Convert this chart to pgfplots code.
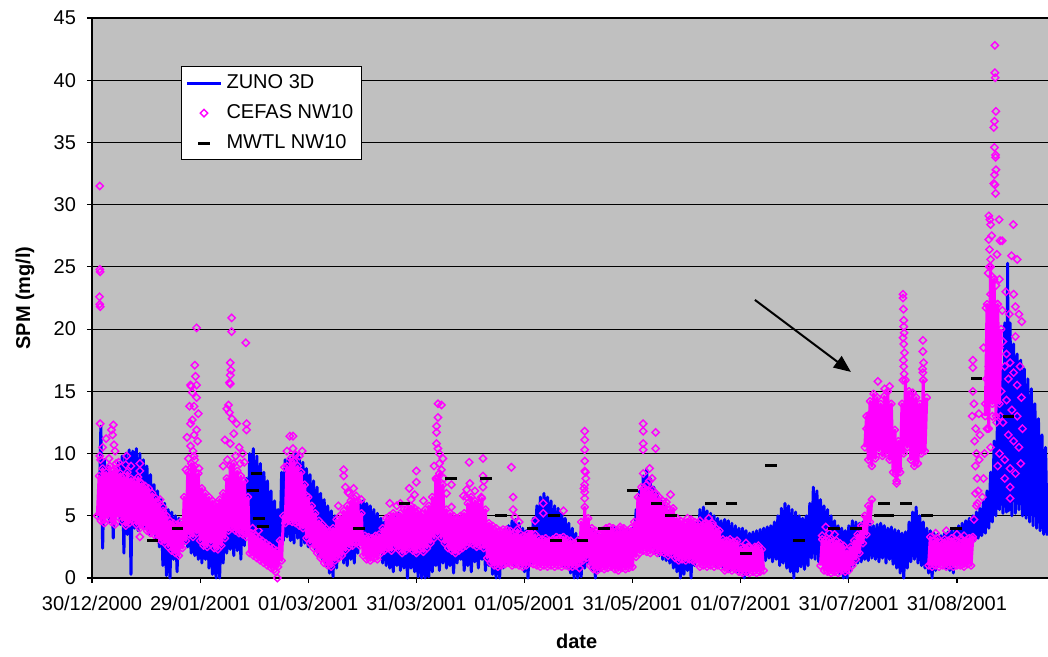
\documentclass[border=0pt]{standalone}
\usepackage{pgfplots}
\pgfplotsset{compat=1.18}
\usepackage{fontspec}
\setmainfont{Liberation Sans}
\usetikzlibrary{arrows.meta}
\definecolor{plotgray}{RGB}{192,192,192}
\definecolor{zuno}{RGB}{0,0,255}
\definecolor{cefas}{RGB}{255,0,255}
\begin{document}
\begin{tikzpicture}
\useasboundingbox (-46pt,-39.5pt) rectangle (478pt,289pt);
\begin{axis}[
  at={(0,0)}, anchor=south west,
  scale only axis, width=478pt, height=280pt,
  xmin=0, xmax=269.7, ymin=0, ymax=45,
  axis background/.style={fill=plotgray},
  axis x line*=bottom, axis y line*=left,
  axis line style={black, line width=0.6pt},
  ytick={0,5,...,45},
  ymajorgrids, grid style={black, line width=0.55pt},
  xtick={0,30.5,61,91.5,122,152.5,183,213.5,244},
  xticklabels={30/12/2000,29/01/2001,01/03/2001,31/03/2001,01/05/2001,31/05/2001,01/07/2001,31/07/2001,31/08/2001},
  tick align=outside, major tick length=2.5pt,
  tick style={black, line width=0.6pt},
  ticklabel style={font=\fontsize{10}{12}\selectfont},
  xticklabel style={yshift=-3pt},
  yticklabel style={xshift=-2pt},
  /pgf/number format/assume math mode=true,
  xlabel={\textbf{date}}, ylabel={\textbf{SPM (mg/l)}},
  label style={font=\fontsize{10}{12}\selectfont},
  xlabel style={at={(axis description cs:0.507,-0.114)}, anchor=center},
  ylabel style={at={(axis description cs:-0.070,0.5)}, anchor=center},
  unbounded coords=jump,
  clip=false,
  legend style={at={(axis description cs:0.093,0.914)}, anchor=north west,
    draw=black, fill=white, line width=0.5pt,
    font=\fontsize{10}{12}\selectfont, inner xsep=2pt, inner ysep=2pt, row sep=2.5pt},
  legend cell align=left,
]
% ZUNO 3D model (tidal band)
\addplot[zuno, line width=1.5pt, line join=round, legend image post style={line width=1.5pt}] coordinates {
(2,4.8)(2.5,12.2)(3,2.4)(3.5,9.5)(4,5)(4.5,9)(5,4.5)(5.5,8.5)(6,3.2)(6.5,8.7)(7,5)(7.5,9.3)(8,4.3)(8.5,9.8)(9,2)(9.5,10)(10,3.5)(10.5,10.3)(11,0.3)(11.5,10.2)(12,4)(12.5,10.4)(13,3.8)(13.5,10)(14,4.2)(14.5,9.5)(15,4)(15.5,9)(16,3.5)(16.5,8.3)(17,3.8)(17.5,7.5)(18,3.2)(18.5,7)(19,2.5)(19.5,6.3)(20,1)(20.5,6)(21,0.2)(21.5,5.5)(22,0)(22.5,5.3)(23,1.5)(23.5,5)(24,0.5)(24.5,4.8)(25,2.5)(25.5,4.5)(26,2.8)(26.5,4.4)(27,2.5)(27.5,4.3)(28,2)(28.5,4.2)(29,1.8)(29.5,4.6)(30,1.5)(30.5,5)(31,1.2)(31.5,5.4)(32,1.5)(32.5,5.6)(33,0.8)(33.5,5.5)(34,0.3)(34.5,5.3)(35,0)(35.5,5)(36,0)(36.5,4.8)(37,1.2)(37.5,5.2)(38,2)(38.5,5.8)(39,2.3)(39.5,6.3)(40,1.8)(40.5,6.5)(41,2.2)(41.5,7)(42,1.5)(42.5,6.8)(43,2.6)(43.5,8)(44,3.4)(44.5,10)(45,3.6)(45.5,10.4)(46,2.8)(46.5,9.8)(47,2)(47.5,9.2)(48,2.8)(48.5,8.5)(49,1.8)(49.5,7.8)(50,1.2)(50.5,7)(51,1)(51.5,6.2)(52,1)(52.5,5.5)(53,2)(53.5,8.5)(54,3)(54.5,9.5)(55,3.3)(55.5,9.6)(56,3)(56.5,9.8)(57,2.8)(57.5,10)(58,3.2)(58.5,9.7)(59,2.6)(59.5,9.3)(60,2.8)(60.5,8.8)(61,2.5)(61.5,8.3)(62,2.6)(62.5,7.8)(63,2.2)(63.5,7.3)(64,1.8)(64.5,6.8)(65,1.5)(65.5,6.3)(66,1)(66.5,5.8)(67,0.4)(67.5,5.4)(68,0.1)(68.5,5)(69,0.8)(69.5,4.5)
(70,1.5)(70.5,4.8)(71,1.2)(71.5,5)(72,1)(72.5,5.3)(73,1.5)(73.5,5.5)(74,1.2)(74.5,5.8)(75,2)(75.5,6)(76,2.8)(76.5,6.2)(77,2.5)(77.5,6)(78,2.8)(78.5,5.8)(79,2.2)(79.5,5.5)(80,1.8)(80.5,5.2)(81,2)(81.5,4.8)(82,1.2)(82.5,4.5)(83,1)(83.5,4.6)(84,0.8)(84.5,4.8)(85,0.5)(85.5,5)(86,1)(86.5,5.2)(87,0.6)(87.5,5)(88,0.8)(88.5,4.6)(89,0)(89.5,4.3)(90,0.8)(90.5,4.5)(91,0.5)(91.5,4.2)(92,0.1)(92.5,4)(93,0)(93.5,3.8)(94,0)(94.5,3.6)(95,0.1)(95.5,3.8)(96,0.5)(96.5,4)(97,1)(97.5,4.3)(98,0.6)(98.5,4.5)(99,1.2)(99.5,4.4)(100,0.8)(100.5,4.2)(101,1)(101.5,4)(102,0.4)(102.5,3.8)(103,1.2)(103.5,3.6)(104,1.5)(104.5,3.8)(105,0.6)(105.5,4)(106,1)(106.5,3.8)(107,0.5)(107.5,3.6)(108,1.3)(108.5,3.5)(109,0.8)(109.5,3.8)(110,1.5)(110.5,4)(111,0.6)(111.5,3.7)(112,1)(112.5,3.5)(113,0.3)(113.5,3.3)(114,0)(114.5,3.2)(115,0)(115.5,3.4)(116,0.8)(116.5,3.8)(117,1.2)(117.5,4.2)(118,1.5)(118.5,4.6)(119,1)(119.5,4.7)(120,1.3)(120.5,4.4)(121,0.9)(121.5,4)(122,0.5)(122.5,3.8)(123,0)(123.5,4)(124,1.2)(124.5,4.8)(125,1.8)(125.5,5.8)(126,2.2)(126.5,6.5)(127,2)(127.5,6.8)(128,1.6)(128.5,6.5)(129,1.5)(129.5,6.2)(130,1.2)(130.5,5.8)(131,1.5)(131.5,5.6)(132,1.3)(132.5,5.2)(133,1)(133.5,4.8)(134,0.8)(134.5,4.4)(135,0.4)(135.5,4)(136,0)(136.5,3.6)(137,0)(137.5,3.3)(138,0.1)(138.5,3.5)(139,0.8)(139.5,3.8)
(140,1.2)(140.5,4)(141,0.6)(141.5,3.8)(142,0)(142.5,3.5)(143,0.5)(143.5,3.4)(144,1)(144.5,3.6)(145,1.2)(145.5,3.8)(146,1.4)(146.5,4)(147,1)(147.5,4.1)(148,1.3)(148.5,3.9)(149,0.9)(149.5,3.8)(150,1.2)(150.5,3.6)(151,1)(151.5,3.8)(152,1.4)(152.5,4)(153,1.8)(153.5,5.5)(154,2.8)(154.5,7)(155,3.2)(155.5,8.2)(156,3)(156.5,8.7)(157,2.8)(157.5,8)(158,2.4)(158.5,7.3)(159,2)(159.5,6.8)(160,1.8)(160.5,6.2)(161,1.5)(161.5,5.8)(162,1.4)(162.5,5.4)(163,1.2)(163.5,5)(164,0.8)(164.5,4.6)(165,0.5)(165.5,4.3)(166,0)(166.5,4)(167,0.3)(167.5,3.8)(168,0.6)(168.5,3.7)(169,0)(169.5,3.8)(170,1)(170.5,4.5)(171,1.5)(171.5,5.5)(172,1.8)(172.5,5.7)(173,1.5)(173.5,5.4)(174,1.2)(174.5,5.2)(175,1.4)(175.5,5)(176,1)(176.5,4.8)(177,1.2)(177.5,4.6)(178,0.8)(178.5,4.7)(179,1)(179.5,4.6)(180,0.6)(180.5,4.4)(181,0.8)(181.5,4.2)(182,0.5)(182.5,4)(183,0.4)(183.5,4)(184,0)(184.5,3.8)(185,0.3)(185.5,3.6)(186,0.9)(186.5,3.7)(187,1.3)(187.5,3.8)(188,1.5)(188.5,3.9)(189,1.2)(189.5,4)(190,1.4)(190.5,4.1)(191,1.6)(191.5,4.2)(192,1.3)(192.5,4.5)(193,1.5)(193.5,5)(194,1)(194.5,5.6)(195,1.2)(195.5,6)(196,0.8)(196.5,5.8)(197,0.5)(197.5,5.5)(198,0)(198.5,5.3)(199,0.5)(199.5,5)(200,0.9)(200.5,4.8)(201,0.7)(201.5,5)(202,1)(202.5,6)(203,1.6)(203.5,7.3)(204,1.5)(204.5,7)(205,1.3)(205.5,6.3)(206,1.2)(206.5,5.8)(207,1)(207.5,5.5)(208,0.8)(208.5,5)(209,0.9)(209.5,4.6)
(210,0.6)(210.5,4.2)(211,0.3)(211.5,4)(212,0)(212.5,3.8)(213,0)(213.5,4.2)(214,0.6)(214.5,4.6)(215,1)(215.5,4.5)(216,1.2)(216.5,4.4)(217,1.3)(217.5,4.5)(218,1.5)(218.5,4.6)(219,1.4)(219.5,4.4)(220,1.6)(220.5,4.2)(221,1.5)(221.5,4.3)(222,1.3)(222.5,4.4)(223,1.6)(223.5,4.2)(224,1.2)(224.5,4)(225,1.5)(225.5,4.1)(226,1.1)(226.5,3.9)(227,0.8)(227.5,3.8)(228,0.4)(228.5,3.6)(229,0)(229.5,3.7)(230,0.8)(230.5,4.5)(231,1.3)(231.5,5.3)(232,1.5)(232.5,5.7)(233,1.2)(233.5,5)(234,1)(234.5,4.5)(235,0.8)(235.5,4)(236,0.4)(236.5,3.8)(237,0)(237.5,3.6)(238,0.6)(238.5,3.5)(239,0.9)(239.5,3.4)(240,1)(240.5,3.6)(241,0.8)(241.5,3.7)(242,0.6)(242.5,3.8)(243,0.4)(243.5,4)(244,1)(244.5,4.2)(245,1.5)(245.5,4.4)(246,2)(246.5,4.6)(247,2.4)(247.5,4.8)(248,2.8)(248.5,5)(249,3)(249.5,5.3)(250,3.2)(250.5,5.6)(251,3.4)(251.5,6.2)(252,3.6)(252.5,7)(253,4)(253.5,8.5)(254,4.5)(254.5,11)(255,5)(255.5,14)(256,5.5)(256.5,17)(257,5.2)(257.5,20.5)(258,5.3)(258.3,25.3)(258.6,5.4)(259,20.5)(259.5,5)(260,18.8)(260.5,5.2)(261,18)(261.5,5.5)(262,17.5)(262.5,5)(263,16.8)(263.5,4.8)(264,16)(264.5,4.5)(265,15.2)(265.5,4.2)(266,14)(266.5,4)(267,12.8)(267.5,3.8)(268,11.5)(268.5,3.5)(269,10.5)(269.5,3.4)
};
\addlegendentry{ZUNO 3D}
% CEFAS NW10 dense core (sensor series)
\addplot[cefas, line width=1.5pt, line join=round, mark=square, mark size=1.3pt, mark options={rotate=45, solid, line width=0.7pt}, forget plot] coordinates {
(1.5,5)(2,8.2)(2.5,4.6)(3,8.8)(3.5,4.4)(4,8.5)(4.5,4.8)(5,9)(5.5,4.5)(6,8.6)(6.5,4.3)(7,8.8)(7.5,4.9)(8,8.4)(8.5,4.6)(9,8.2)(9.5,4.2)(10,8.5)(10.5,4.4)(11,8)(11.5,4.6)(12,7.8)(12.5,4.3)(13,8.1)(13.5,4)(14,7.6)(14.5,4.2)(15,7.4)(15.5,3.8)(16,7.2)(16.5,3.6)(17,6.8)(17.5,3.5)(18,6.4)(18.5,3.2)(19,6)(19.5,3)(20,5.4)(20.5,2.8)(21,5)(21.5,2.5)(22,4.6)(22.5,2.2)(23,4.4)(23.5,2)(24,4.3)(24.5,1.8)(25,4.5)(25.5,2.4)(26,6.5)(26.5,3)(27,8.5)(27.5,3.5)(28,9.2)(28.5,3.3)(29,9)(29.5,3.6)(30,8.4)(30.5,3)(31,7.2)(31.5,2.6)(32,6.8)(32.5,2.5)(33,6.5)(33.5,2.8)(34,6.2)(34.5,2.4)(35,6)(35.5,2.3)(36,6.3)(36.5,2.6)(37,6.8)(37.5,3.2)(38,8)(38.5,3.8)(39,9)(39.5,4)(40,9.2)(40.5,3.8)(41,8.6)(41.5,3.6)(42,8.2)(42.5,3.5)(43,7.8)(43.5,3.3)(44,6.5)
(44.5,2)(45,3.6)(45.5,1.8)(46,3.4)(46.5,1.6)(47,3.2)(47.5,1.4)(48,3)(48.5,1.2)(49,2.8)(49.5,1)(50,2.6)(50.5,0.8)(51,2.4)(51.5,0.7)(52,2.2)(52.5,0.9)(53,3)(53.5,1.4)(54,5)(54.5,4.4)(55,9)(55.5,4.6)(56,9.6)(56.5,4.5)(57,9.4)(57.5,4.4)(58,9)(58.5,4.2)(59,8.5)(59.5,4)(60,7.5)(60.5,3.2)(61,6.5)(61.5,2.8)(62,5.8)(62.5,2.4)(63,5.2)(63.5,2)(64,4.6)(64.5,1.6)(65,4.3)(65.5,1.2)(66,4)(66.5,1)(67,3.8)(67.5,0.9)(68,4)(68.5,1.4)(69,4.7)(69.5,1.6)(70,5)(70.5,1.8)(71,5.4)(71.5,2.2)(72,5.8)(72.5,2.5)(73,6.2)(73.5,2.6)(74,6.4)(74.5,2.8)(75,6.2)(75.5,2.6)(76,5.2)(76.5,1.8)(77,3.4)(77.5,1.5)(78,3.3)(78.5,1.4)(79,3.2)(79.5,1.6)(80,3.4)(80.5,1.5)(81,3.5)(81.5,2)(82,4)(82.5,2.2)(83,4.8)(83.5,2.4)(84,5)(84.5,2.2)(85,5.2)(85.5,2.5)(86,5)(86.5,2.3)(87,5.2)(87.5,2)(88,5.5)(88.5,2.2)(89,5.6)(89.5,2.4)(90,5.8)(90.5,2.2)(91,5.6)(91.5,2)(92,5.4)(92.5,2.3)(93,5.2)(93.5,2.1)(94,5.5)(94.5,2.4)(95,5.8)(95.5,2.8)(96,6.5)(96.5,3.2)(97,8)(97.5,3.5)(98,8.4)(98.5,3.2)(99,7.5)(99.5,2.8)(100,5.5)(100.5,2.4)(101,5.2)(101.5,2.2)(102,5)(102.5,2)(103,4.8)(103.5,2.2)(104,5)(104.5,2.4)(105,5.2)(105.5,2.6)(106,6)(106.5,2.8)(107,6.5)(107.5,2.7)(108,6.2)(108.5,2.5)(109,6)(109.5,2.6)(110,6.4)(110.5,2.4)(111,5.5)(111.5,1.6)(112,4.4)(112.5,1.2)(113,4.2)(113.5,1)(114,4)(114.5,0.9)(115,3.8)(115.5,1)(116,3.9)(116.5,1.1)(117,3.9)(117.5,1.2)(118,3.8)(118.5,1)(119,3.6)(119.5,1.1)(120,3.9)(120.5,1)(121,3.5)(121.5,0.9)(122,3.4)(122.5,1)(123,3.6)(123.5,1.2)(124,3.8)(124.5,1.1)(125,3.5)(125.5,1)(126,3.2)(126.5,0.9)(127,3.1)(127.5,1)(128,3.2)(128.5,0.9)(129,3)(129.5,1)(130,3.1)(130.5,0.9)(131,3.3)(131.5,1)(132,3.2)(132.5,0.9)(133,3.3)(133.5,1)(134,3.1)(134.5,0.9)(135,3)(135.5,0.9)(136,2.8)(136.5,1)(137,3)(137.5,1.2)(138,4.5)(138.5,1.4)(139,5.7)(139.5,1.6)(140,4.8)(140.5,1)(141,4)(141.5,0.7)(142,3.8)(142.5,0.6)(143,3.6)(143.5,0.8)(144,3.8)(144.5,0.7)(145,4)(145.5,0.8)(146,4.1)(146.5,0.9)(147,4)(147.5,0.7)(148,3.8)(148.5,0.6)(149,3.9)(149.5,0.8)(150,4)(150.5,0.7)(151,3.8)(151.5,0.8)(152,4)(152.5,0.9)(153,4.5)(153.5,1.7)(154,6.5)(154.5,2)(155,7.3)(155.5,2.2)(156,7.2)(156.5,2.1)(157,7)(157.5,2)(158,7.1)(158.5,2.2)(159,6.8)(159.5,2)(160,6.5)(160.5,2.1)(161,6.2)(161.5,2)(162,5.8)(162.5,1.8)(163,5.5)(163.5,1.9)(164,5.6)(164.5,1.6)(165,4.8)(165.5,1.4)(166,4.6)(166.5,1.5)(167,4.4)(167.5,1.4)(168,4.5)(168.5,1.5)(169,4.7)(169.5,1.4)(170,4.5)(170.5,1.2)(171,4.4)(171.5,0.9)(172,4.2)(172.5,1)(173,4.4)(173.5,0.9)(174,4.3)(174.5,1)(175,4.2)(175.5,0.9)(176,4)(176.5,1)(177,3.8)(177.5,0.9)(178,3.1)(178.5,0.6)(179,3)(179.5,0.7)(180,3.1)(180.5,0.6)(181,2.9)(181.5,0.7)(182,3)(182.5,0.5)(183,2.5)(183.5,0.4)(184,2.4)(184.5,0.5)(185,2.5)(185.5,0.4)(186,2.3)(186.5,0.5)(187,2.5)(187.5,0.4)(188,2.4)(188.5,0.5)(189,2.3)(189.5,0.6)
(190,nan)
(205.5,1)(206,3.1)(206.5,0.6)(207,3)(207.5,0.5)(208,3.1)(208.5,0.4)(209,2.9)(209.5,0.5)(210,3)(210.5,0.4)(211,2.8)(211.5,0.6)(212,2.6)(212.5,0.5)(213,2.2)(213.5,0.6)(214,2.5)(214.5,1)(215,3)(215.5,1.5)(216,3.5)(216.5,2)(217,4.2)(217.5,2.8)(218,5)(218.5,3.5)(219,5.8)(219.5,4.5)(220,6.3)
(220.2,nan)
(218,10.5)(218.5,13)(219,9.5)(219.5,14.2)(220,9)(220.5,14.8)(221,9.6)(221.5,14.5)(222,10.2)(222.5,14)(223,9.8)(223.5,14.6)(224,10)(224.5,15)(225,9.5)(225.5,14)(226,8.5)(226.5,11.9)(227,7.8)(227.5,11)(228,8.5)(228.5,14)(229,10)(229.5,15.9)(230,10.5)(230.5,15)(231,9.5)(231.5,14.9)(232,9)(232.5,14.5)(233,9.2)(233.5,14)(234,10)(234.5,15.9)(235,10.2)(235.5,14.5)
(235.7,nan)
(236,1)(236.5,3.3)(237,0.9)(237.5,3)(238,1)(238.5,3.2)(239,0.9)(239.5,2.9)(240,1)(240.5,3.1)(241,0.9)(241.5,3)(242,1)(242.5,3.2)(243,0.9)(243.5,3)(244,1)(244.5,2.9)(245,1)(245.5,3.1)(246,0.9)(246.5,3)(247,1.1)(247.5,3.2)(248,1)(248.5,3.3)
(248.7,nan)
(252,13)(252.5,22)(253,12)(253.5,25)(254,14)(254.5,24)(255,13)(255.5,22)(256,14)(256.5,20)
};
% CEFAS NW10 scattered samples
\addplot[cefas, only marks, mark=square, mark size=1.3pt, mark options={rotate=45, line width=0.7pt}] coordinates {
(2.2,31.5)(2.2,24.8)(2.3,24.6)(2.1,22.6)(2.2,22)(2.3,21.8)(2.3,12.4)(2.2,9.8)(2.4,9.5)(4,11.2)(5.5,11.9)(6,12.3)(5.8,11.5)(6.2,10.7)(6.5,10.2)(6.8,9.2)(9.8,9.8)(13.5,9.2)(13.5,8.6)(13.8,7.6)(19.2,6.3)(20,5.7)(20.2,5.2)(13.5,3.3)(9.5,9.1)(11,9)(4.8,9.6)(7.5,9.3)(3,10.5)
(27.8,15.5)(29.5,15.5)(28.3,14.9)(29.5,14.5)(27.5,13.8)(28.8,13.8)(30,13.2)(28.3,12.7)(27.8,12.4)(29.5,11.9)(28.8,11.5)(29.8,11)(27.8,10.6)(28.8,9.8)(29,9.5)(26.5,8.7)(29.5,20.1)(29,17.1)(28,15.4)(29.2,16.2)(28.5,10.2)(27.2,9.6)(30.2,8.8)(26.8,11.3)(28,8.9)
(39.4,20.9)(39.4,19.8)(43.4,18.9)(39,17.3)(39.2,16.7)(39,16.3)(39,15.6)(38.8,15.7)(38,13.6)(38.8,13.3)(39.5,12.8)(40.8,12.4)(43.6,12.4)(43.6,11.9)(40,11.6)(37.5,11.1)(39,10.8)(41.5,10.5)(42.5,10)(40.5,9.8)(38.2,9.5)(43,9.3)(37,9)(41.8,9.2)(38.5,13.9)
(52.3,0)(51.8,0.5)(55.8,11.4)(56.7,11.4)(56.7,10.4)(59.3,10.2)(55,10.2)(57.5,9.9)(58.5,9.8)(60.5,6.6)(62.6,4.1)(61.2,5.4)(54.3,8.9)(45.3,4)(47,3.8)
(64.8,4.1)(64.8,3.6)(71,8.7)(71,8.2)(71.5,7.3)(72.5,6.8)(73.8,7.2)(74.5,6.6)(72.2,6.9)(76,6.3)(69.5,5.8)
(84,6)(89.5,7.2)(91.5,8.6)(91.5,7.7)(91,6.7)(90,6.3)(87,6)(93.5,6.2)(86,5.8)
(97.6,14)(98.6,13.9)(97.2,12.2)(97.2,11.7)(97.2,10.8)(97.6,10.4)(98,10)(99,9.6)(98,9.2)(98.6,8.7)(97.2,7.9)(101.4,7.5)(101.4,5.7)(96.5,9)(97.6,12.9)(99.3,8)(100,6.8)
(106.4,9.3)(106.6,7.6)(105.7,7.1)(105.7,6.5)(110.3,9.6)(110.3,8.2)(110.3,7.3)(109.8,6.5)(108,7)(110.6,7.8)(104.8,6.6)
(118.3,8.9)(118.8,6.5)(118.8,5.5)(119.3,4.9)(127.3,6)(127.3,5.2)(125,4.6)(120.5,4.5)
(133,5.4)(139,11.8)(139,11.1)(139,10.3)(139,9.4)(139,8.6)(139.2,8.5)(139,7.5)(139,6.9)(139,6.4)(137.5,0.8)(139.3,8)(138.8,7.2)
(149,4.1)(148.5,3.3)(155.5,12.4)(155.5,11.8)(155.5,10.8)(155.5,10.3)(159,11.7)(159,10.4)(157.3,8.8)(155.5,8.4)(157.2,7.8)(156.5,7.5)(159,6.8)(163.2,6.7)(162,6.1)(158,8)
(169,4.4)(171.5,4.6)(174,4.8)(174,4.1)(175,4.4)(184.5,2.8)(185.5,2.5)(188,2.6)(168,4.8)(172.8,4.3)
(207,4.1)(208,3.6)(206,3.4)(209.5,3.5)
(221.7,15.8)(225,15.4)(219.5,13.2)(220.5,12.5)(218.5,12)(223.6,15.2)
(228.8,22.8)(228.8,22.5)(228.9,21.6)(229,20.7)(229,20.2)(229.1,19.7)(228.8,19.3)(229,18.8)(229.2,18.1)(228.9,17.5)(229,17)(229.1,16.4)(228.8,15.9)
(234.4,19.1)(234.4,18.2)(234.6,17.3)(234.4,16.5)(234.5,15.9)(234.3,16.8)
(227,7.6)(226.8,8.3)(227.5,8.8)
(238,3.6)(241,3.8)(244,3.5)(246,3.4)
(248.5,17.5)(248.5,16.9)(248.5,15)(248.8,14)(248.3,13)(249.3,12)(249,11)(249.5,10)(249.2,9)(249.7,8)(250,7)(249.2,6.8)(249.5,5.8)(248.8,4.7)(248.5,3.1)(250.3,9.5)(250.5,11.5)(250.2,13.2)(249.8,6)
(254.7,42.8)(254.7,40.6)(254.8,40.2)(255,37.5)(254.6,36.7)(254.4,36.2)(254.6,34.6)(254.9,34)(254.9,33.8)(255,32.8)(254.6,32.4)(254.4,31.7)(254.7,31.6)(254.9,30.9)(253,29.1)(253.3,28.8)(253.5,28.4)(255.9,28.8)(259.9,28.4)(253,27.2)(256.2,27.1)(256.8,27.1)(253.2,26.4)(253.5,25.6)(259.4,25.9)(261,25.6)(253.2,25)(254,24.2)(255,23.5)(256,24)(253.5,22.8)(255.5,22)(256.8,21.5)(260,22.8)(260.5,21.8)(261.5,21.2)(262.3,20.6)(260.5,19.4)(253,20)(254.5,19.2)(256,18.5)(257,19)(258,18)(257.5,17)(259,17.3)(258.5,16)(260,16.5)(261,15.5)(256.5,15)(258,14.3)(259.5,13.5)(261,13)(257,12.5)(258.5,11.5)(260,11)(261.5,10.5)(256,10)(257.5,9.5)(259,8.8)(260.5,8.4)(262,9.2)(259,7.3)(259,6.4)(257.5,8)(255.5,9)(253.5,10.5)(252.5,12)(252,14)(252.3,16)(251.8,10)(251.5,8)(251.2,6.5)(253,17)(254,13)(255.2,12.5)(262.5,12)(262.2,14.5)(261.8,17)(256.3,13)(258.8,21.2)(257.8,23)(255.3,26)(253.8,27.5)(252.8,24.5)(251.5,18.5)(252.2,21.7)
};
\addlegendentry{CEFAS NW10}
% MWTL NW10
\addplot[black, only marks, mark=-, mark size=2.9pt, mark options={line width=1.5pt}] coordinates {
(17.1,3)(24.1,4)(45.4,7)(46.4,8.4)(47.1,4.8)(48.2,4.1)(75.3,4)(88.2,6)(101.2,8)(111.2,8)(115.3,5)(124.3,4)(130.3,5)(130.9,3)(138.4,3)(144.4,4)(152.5,7)(159.3,6)(163.3,5)(174.6,6)(180.4,6)(184.5,2)(191.5,9)(199.4,3)(209.3,4)(215.5,4)(222.3,5)(224.5,5)(223.4,6)(229.6,6)(235.5,5)(243.7,4)(249.5,16)(258.5,13)
};
\addlegendentry{MWTL NW10}
\draw[black, line width=1pt, -{Triangle[length=8.5pt, width=7pt]}] (axis cs:187,22.35) -- (axis cs:214.1,16.56);
\end{axis}
\end{tikzpicture}
\end{document}
